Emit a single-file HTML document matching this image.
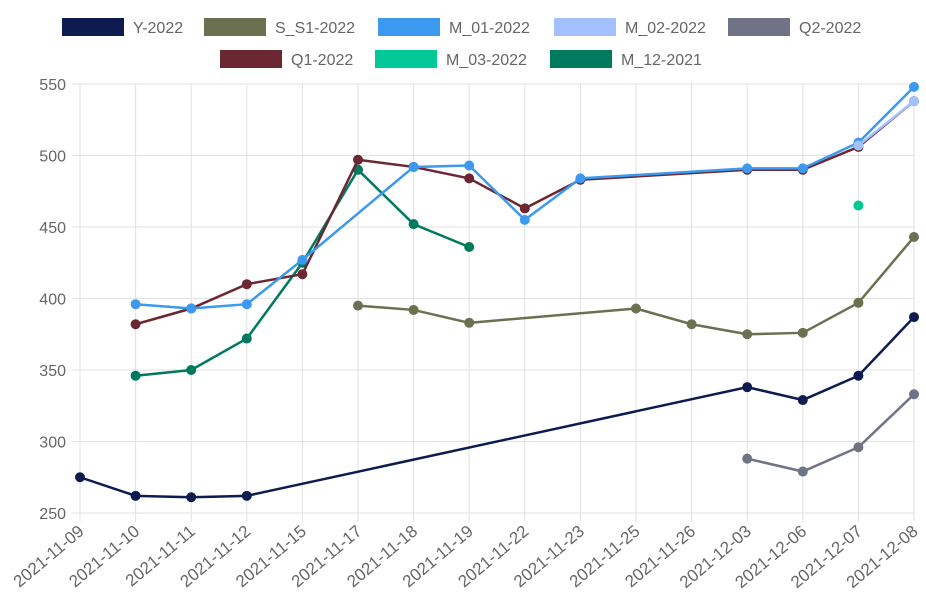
<!DOCTYPE html>
<html><head><meta charset="utf-8"><style>
body{margin:0;background:#fff}
svg{display:block;font-family:"Liberation Sans",Arial,sans-serif}
</style></head><body>
<svg id="s" width="926" height="596" xmlns="http://www.w3.org/2000/svg"></svg>
<script>
const s=document.getElementById('s');
let h='';
const cats=['2021-11-09','2021-11-10','2021-11-11','2021-11-12','2021-11-15','2021-11-17','2021-11-18','2021-11-19','2021-11-22','2021-11-23','2021-11-25','2021-11-26','2021-12-03','2021-12-06','2021-12-07','2021-12-08'];
const X=i=>80+i*(834/15), Y=v=>513-(v-250)*429/300;
for(let v=250;v<=550;v+=50){h+=`<line x1="72" x2="914" y1="${Y(v)}" y2="${Y(v)}" stroke="#e2e2e2"/><text x="66" y="${Y(v)+6}" text-anchor="end" font-size="16" fill="#666">${v}</text>`;}
cats.forEach((c,i)=>{h+=`<line x1="${X(i)}" x2="${X(i)}" y1="84" y2="522" stroke="#e2e2e2"/><text transform="translate(${X(i)+5},533) rotate(-40)" text-anchor="end" font-size="17" fill="#666">${c}</text>`;});
const S=[
['Y-2022','#0d1b4f',[275,262,261,262,null,null,null,null,null,null,null,null,338,329,346,387]],
['S_S1-2022','#6b7150',[null,null,null,null,null,395,392,383,null,null,393,382,375,376,397,443]],
['M_12-2021','#007a5e',[null,346,350,372,425,490,452,436]],
['Q1-2022','#6b2732',[null,382,393,410,417,497,492,484,463,483,null,null,490,490,506,538]],
['M_01-2022','#3b99f0',[null,396,393,396,427,null,492,493,455,484,null,null,491,491,509,548]],
['M_02-2022','#a3c0ff',[null,null,null,null,null,null,null,null,null,null,null,null,null,null,507,538]],
['Q2-2022','#6f7385',[null,null,null,null,null,null,null,null,null,null,null,null,288,279,296,333]],
['M_03-2022','#00c896',[null,null,null,null,null,null,null,null,null,null,null,null,null,null,465]],
];
S.forEach(([n,c,d])=>{let p=[];d.forEach((v,i)=>{if(v!=null)p.push(X(i)+','+Y(v))});
if(p.length>1)h+=`<polyline points="${p.join(' ')}" fill="none" stroke="${c}" stroke-width="2.5"/>`;
p.forEach(q=>{const[a,b]=q.split(',');h+=`<circle cx="${a}" cy="${b}" r="5" fill="${c}"/>`});});
const L=[['Y-2022','#0d1b4f',62,18],['S_S1-2022','#6b7150',204,18],['M_01-2022','#3b99f0',378,18],['M_02-2022','#a3c0ff',554,18],['Q2-2022','#6f7385',728,18],['Q1-2022','#6b2732',220,50],['M_03-2022','#00c896',375,50],['M_12-2021','#007a5e',550,50]];
L.forEach(([n,c,x,y])=>{h+=`<rect x="${x}" y="${y}" width="62" height="18" fill="${c}"/><text x="${x+71}" y="${y+15}" font-size="16" fill="#666">${n}</text>`;});
s.innerHTML=h;
</script>
</body></html>
